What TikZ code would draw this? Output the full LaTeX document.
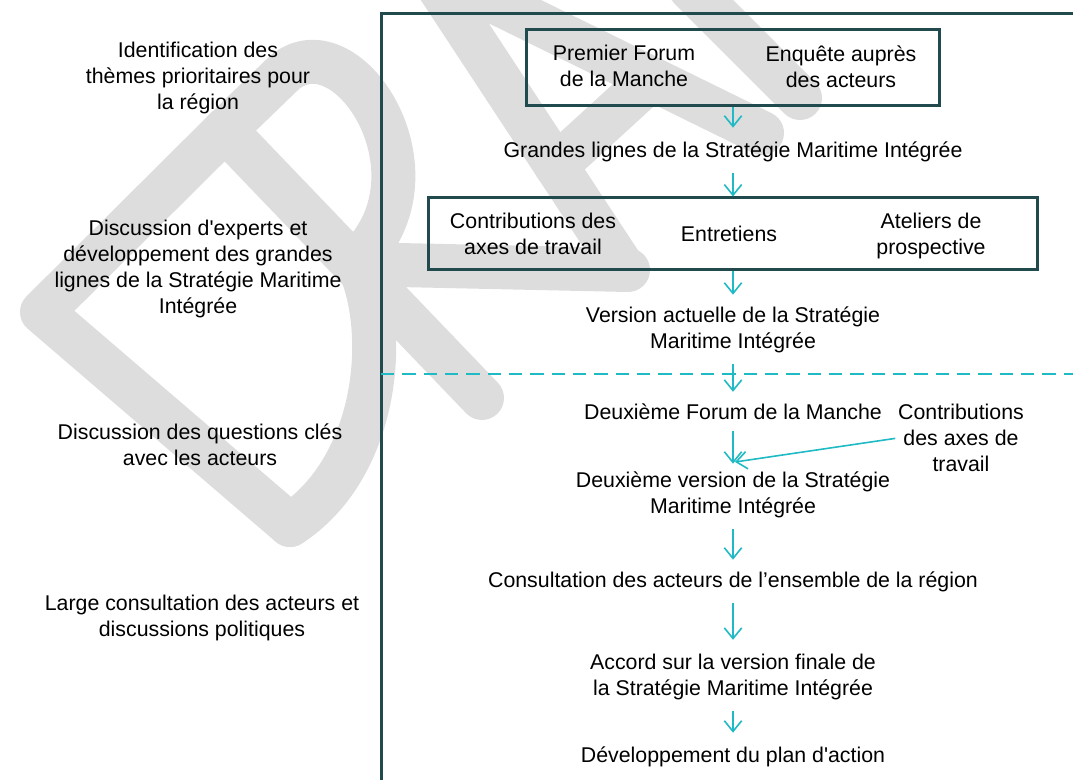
\documentclass[tikz,border=0pt]{standalone}
\usepackage{fontspec}
\setmainfont{Liberation Sans}
\usetikzlibrary{arrows.meta}
\definecolor{framecol}{RGB}{33,74,79}
\definecolor{flowcol}{RGB}{31,186,196}
\definecolor{wmgray}{RGB}{221,221,221}
\tikzset{
  steptext/.style={font=\fontsize{16}{19.5}\selectfont, align=center, inner sep=0pt},
  stagebox/.style={draw=framecol, line width=2.25pt, rectangle, inner sep=0pt},
  flow/.style={draw=flowcol, line width=1.2pt, -{Straight Barb[length=8pt,width=13pt]}, shorten <=8pt, shorten >=9pt},
  wm/.style={draw=wmgray, line width=33pt, line cap=round, line join=round}
}
\begin{document}
\begin{tikzpicture}[x={(0.75pt,0)}, y={(0,-0.75pt)}]
    \useasboundingbox (0,0) rectangle (1073,780);
    % watermark
    \begin{scope}
        \clip (0,0) rectangle (1073,780);
        \draw[wm] (290,525) -- (42,312) -- (225,130) -- (482,398);
        \draw[wm] (360,268) .. controls (390,340) and (375,470) .. (290,525);
        \draw[wm] (225,130) -- (285,72) .. controls (350,20) and (450,180) .. (353,264) -- (628,270);
        \draw[wm] (622,266) -- (426,-32) -- (762,133);
        \draw[wm] (556,166) -- (650,80);
        \draw[wm] (800,98) -- (690,-12);
    \end{scope}
    % frame
    \draw[framecol, line width=2.25pt] (381,780) -- (381,14) -- (1073,14);
    \draw[flowcol, line width=1.8pt, dash pattern=on 10pt off 6pt] (381,374) -- (1073,374);
    % phases
    \node[steptext] (phase1) at (198,78) {Identification des\\thèmes prioritaires pour\\la région};
    \node[steptext] (phase2) at (198,269) {Discussion d\textquotesingle experts et\\développement des grandes\\lignes de la Stratégie Maritime\\Intégrée};
    \node[steptext] (phase3) at (200,445) {Discussion des questions clés\\avec les acteurs};
    \node[steptext] (phase4) at (202,618) {Large consultation des acteurs et\\discussions politiques};
    % steps
    \node[stagebox, minimum width=309.75pt, minimum height=57pt] (forumbox) at (733,68) {};
    \node[steptext] (premier) at (624,66) {Premier Forum\\de la Manche};
    \node[steptext] (enquete) at (841,67) {Enquête auprès\\des acteurs};
    \node[steptext] (grandes) at (733,152) {Grandes lignes de la Stratégie Maritime Intégrée};
    \node[stagebox, minimum width=456.75pt, minimum height=54pt] (workbox) at (733,234) {};
    \node[steptext] (contrib1) at (533,234) {Contributions des\\axes de travail};
    \node[steptext] (entretiens) at (729,234) {Entretiens};
    \node[steptext] (ateliers) at (931,236) {Ateliers de\\prospective};
    \node[steptext] (versionact) at (733,330) {Version actuelle de la Stratégie\\Maritime Intégrée};
    \node[steptext] (deuxforum) at (733,412) {Deuxième Forum de la Manche};
    \node[steptext] (contrib2) at (961,438) {Contributions\\des axes de\\travail};
    \node[steptext] (deuxversion) at (733,495) {Deuxième version de la Stratégie\\Maritime Intégrée};
    \node[steptext] (consult) at (733,582) {Consultation des acteurs de l’ensemble de la région};
    \node[steptext] (accord) at (733,677) {Accord sur la version finale de\\la Stratégie Maritime Intégrée};
    \node[steptext] (plan) at (733,757) {Développement du plan d\textquotesingle action};
    \coordinate (join) at (735,462);
    % arrows
    \draw[flow, shorten <=0pt, shorten >=10.5pt] (forumbox) -- (grandes);
    \draw[flow, shorten >=0pt] (grandes) -- (workbox);
    \draw[flow, shorten <=0pt] (workbox) -- (versionact);
    \draw[flow] (versionact) -- (deuxforum);
    \draw[flow, shorten >=6pt] (deuxforum) -- (deuxversion);
    \draw[flow, shorten <=2pt, shorten >=0pt] (contrib2.west) -- (join);
    \draw[flow] (deuxversion) -- (consult);
    \draw[flow, shorten >=10.5pt] (consult) -- (accord);
    \draw[flow, shorten >=10.5pt] (accord) -- (plan);
\end{tikzpicture}
\end{document}
